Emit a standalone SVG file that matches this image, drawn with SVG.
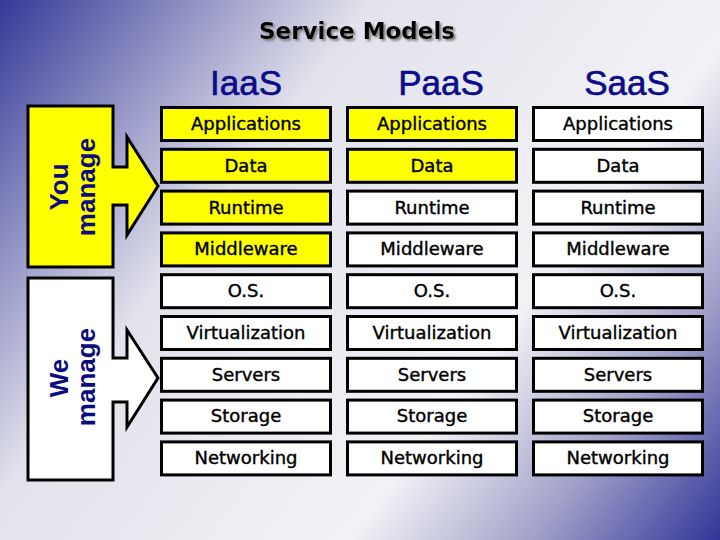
<svg xmlns="http://www.w3.org/2000/svg" width="720" height="540" viewBox="0 0 720 540">
<defs>
<linearGradient id="bg" gradientUnits="userSpaceOnUse" x1="0" y1="0" x2="720" y2="540">
<stop offset="0" stop-color="#363997"/>
<stop offset="0.33" stop-color="#e2e2ec"/>
<stop offset="0.67" stop-color="#f2f2f6"/>
<stop offset="0.83" stop-color="#a2a2ca"/>
<stop offset="1" stop-color="#333598"/>
</linearGradient>
<filter id="shadow" x="-10%" y="-30%" width="120%" height="160%">
<feDropShadow dx="2" dy="2" stdDeviation="0.8" flood-color="#777" flood-opacity="0.9"/>
</filter>
<style>
.box{stroke:#000;stroke-width:3}
.y{fill:#ffff00}
.w{fill:#ffffff}
.lbl{font-family:"DejaVu Sans",sans-serif;font-size:18px;text-anchor:middle;fill:#000;stroke:#000;stroke-width:0.4}
.hdr{font-family:"Liberation Sans",Arial,sans-serif;font-size:35px;text-anchor:middle;fill:#0c0c88;stroke:#0c0c88;stroke-width:0.6}
.side{font-family:"Liberation Sans",Arial,sans-serif;font-size:26px;font-weight:bold;text-anchor:middle;fill:#0c0c80}
.title{font-family:"DejaVu Sans",sans-serif;font-size:23px;font-weight:bold;text-anchor:middle;fill:#000}
</style>
</defs>
<rect x="0" y="0" width="720" height="540" fill="url(#bg)"/>
<g id="title">
<text class="title" x="357" y="39" filter="url(#shadow)">Service Models</text>
</g>
<g id="headers">
<text class="hdr" x="246" y="95">IaaS</text>
<text class="hdr" x="441" y="95">PaaS</text>
<text class="hdr" x="627" y="95">SaaS</text>
</g>
<g id="you-manage">
<path class="box y" d="M28,106 H113 V167 H127 V137 L158,186 L127,235 V205 H113 V267 H28 Z"/>
<text class="side" transform="translate(68,187) rotate(-90)">You</text>
<text class="side" transform="translate(95,187) rotate(-90)">manage</text>
</g>
<g id="we-manage">
<path class="box w" d="M28,278 H113 V358 H127 V330 L158,378 L127,427 V402 H113 V480 H28 Z"/>
<text class="side" transform="translate(68,378) rotate(-90)">We</text>
<text class="side" transform="translate(95,377) rotate(-90)">manage</text>
</g>
<g id="iaas">
<rect class="box y" x="161.5" y="107.5" width="169" height="33"/><text class="lbl" x="246" y="130">Applications</text>
<rect class="box y" x="161.5" y="149.3" width="169" height="33"/><text class="lbl" x="246" y="172">Data</text>
<rect class="box y" x="161.5" y="191.1" width="169" height="33"/><text class="lbl" x="246" y="214">Runtime</text>
<rect class="box y" x="161.5" y="232.9" width="169" height="33"/><text class="lbl" x="246" y="255">Middleware</text>
<rect class="box w" x="161.5" y="274.7" width="169" height="33"/><text class="lbl" x="246" y="297">O.S.</text>
<rect class="box w" x="161.5" y="316.5" width="169" height="33"/><text class="lbl" x="246" y="339">Virtualization</text>
<rect class="box w" x="161.5" y="358.3" width="169" height="33"/><text class="lbl" x="246" y="381">Servers</text>
<rect class="box w" x="161.5" y="400.1" width="169" height="33"/><text class="lbl" x="246" y="422">Storage</text>
<rect class="box w" x="161.5" y="441.9" width="169" height="33"/><text class="lbl" x="246" y="464">Networking</text>
</g>
<g id="paas">
<rect class="box y" x="347.5" y="107.5" width="169" height="33"/><text class="lbl" x="432" y="130">Applications</text>
<rect class="box y" x="347.5" y="149.3" width="169" height="33"/><text class="lbl" x="432" y="172">Data</text>
<rect class="box w" x="347.5" y="191.1" width="169" height="33"/><text class="lbl" x="432" y="214">Runtime</text>
<rect class="box w" x="347.5" y="232.9" width="169" height="33"/><text class="lbl" x="432" y="255">Middleware</text>
<rect class="box w" x="347.5" y="274.7" width="169" height="33"/><text class="lbl" x="432" y="297">O.S.</text>
<rect class="box w" x="347.5" y="316.5" width="169" height="33"/><text class="lbl" x="432" y="339">Virtualization</text>
<rect class="box w" x="347.5" y="358.3" width="169" height="33"/><text class="lbl" x="432" y="381">Servers</text>
<rect class="box w" x="347.5" y="400.1" width="169" height="33"/><text class="lbl" x="432" y="422">Storage</text>
<rect class="box w" x="347.5" y="441.9" width="169" height="33"/><text class="lbl" x="432" y="464">Networking</text>
</g>
<g id="saas">
<rect class="box w" x="533.5" y="107.5" width="169" height="33"/><text class="lbl" x="618" y="130">Applications</text>
<rect class="box w" x="533.5" y="149.3" width="169" height="33"/><text class="lbl" x="618" y="172">Data</text>
<rect class="box w" x="533.5" y="191.1" width="169" height="33"/><text class="lbl" x="618" y="214">Runtime</text>
<rect class="box w" x="533.5" y="232.9" width="169" height="33"/><text class="lbl" x="618" y="255">Middleware</text>
<rect class="box w" x="533.5" y="274.7" width="169" height="33"/><text class="lbl" x="618" y="297">O.S.</text>
<rect class="box w" x="533.5" y="316.5" width="169" height="33"/><text class="lbl" x="618" y="339">Virtualization</text>
<rect class="box w" x="533.5" y="358.3" width="169" height="33"/><text class="lbl" x="618" y="381">Servers</text>
<rect class="box w" x="533.5" y="400.1" width="169" height="33"/><text class="lbl" x="618" y="422">Storage</text>
<rect class="box w" x="533.5" y="441.9" width="169" height="33"/><text class="lbl" x="618" y="464">Networking</text>
</g>
<g id="connectors"></g>
</svg>
